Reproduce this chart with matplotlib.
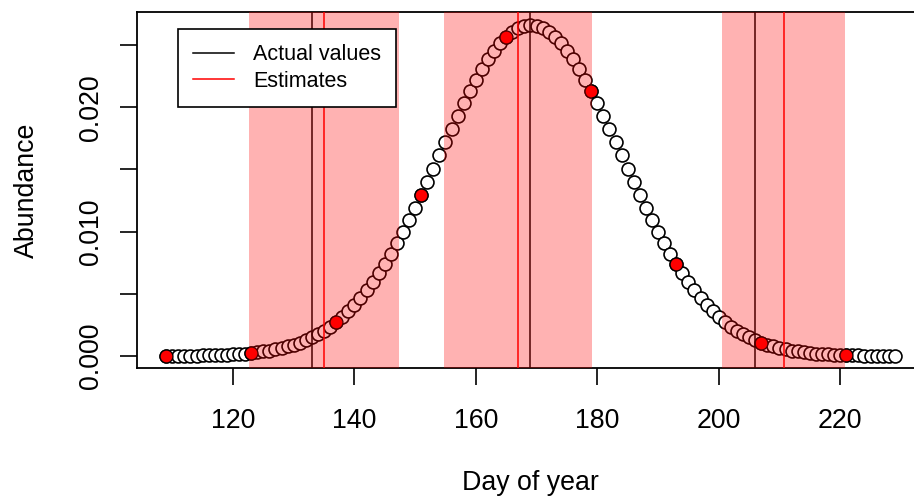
import matplotlib.pyplot as plt
import numpy as np

plt.rcParams['font.family'] = ['Liberation Sans', 'DejaVu Sans']

days = list(range(109, 230))
abundance = [
    0.000009, 0.000012, 0.000015, 0.000019, 0.000025, 0.000032, 0.000041,
    0.000052, 0.000065, 0.000082, 0.000103, 0.000128, 0.000159, 0.000196,
    0.000241, 0.000295, 0.000360, 0.000437, 0.000528, 0.000635, 0.000760,
    0.000906, 0.001074, 0.001269, 0.001493, 0.001748, 0.002038, 0.002365,
    0.002733, 0.003143, 0.003599, 0.004104, 0.004658, 0.005263, 0.005921,
    0.006632, 0.007395, 0.008209, 0.009072, 0.009982, 0.010934, 0.011924,
    0.012946, 0.013993, 0.015058, 0.016131, 0.017205, 0.018269, 0.019313,
    0.020326, 0.021296, 0.022215, 0.023070, 0.023852, 0.024551, 0.025159,
    0.025667, 0.026069, 0.026361, 0.026537, 0.026596,
    0.026537, 0.026361, 0.026069, 0.025667, 0.025159, 0.024551, 0.023852,
    0.023070, 0.022215, 0.021296, 0.020326, 0.019313, 0.018269, 0.017205,
    0.016131, 0.015058, 0.013993, 0.012946, 0.011924, 0.010934, 0.009982,
    0.009072, 0.008209, 0.007395, 0.006632, 0.005921, 0.005263, 0.004658,
    0.004104, 0.003599, 0.003143, 0.002733, 0.002365, 0.002038, 0.001748,
    0.001493, 0.001269, 0.001074, 0.000906, 0.000760, 0.000635, 0.000528,
    0.000437, 0.000360, 0.000295, 0.000241, 0.000196, 0.000159, 0.000128,
    0.000103, 0.000082, 0.000065, 0.000052, 0.000041, 0.000032, 0.000025,
    0.000019, 0.000015, 0.000012, 0.000009,
]

# sampled days (filled red)
sample_days = [109, 123, 137, 151, 165, 179, 193, 207, 221]

# true and estimated phenology dates
actual_dates = [133, 169, 206]
estimated_dates = [135, 167, 210.7]
# uncertainty bands around the estimates
band_lo = [122.7, 154.7, 200.6]
band_hi = [147.3, 179.2, 220.8]

fig = plt.figure(figsize=(9.14, 5.01), dpi=100)
ax = fig.add_axes([137/914, 1 - 368/501, 787/914, 356/501])

ax.plot(days, abundance, 'o', mfc='white', mec='black', ms=9.3, mew=1.2, zorder=1)
sample_vals = [abundance[days.index(d)] for d in sample_days]
ax.plot(sample_days, sample_vals, 'o', mfc='red', mec='black', ms=9.3, mew=0.9, zorder=2)

for d in actual_dates:
    ax.axvline(d, color='black', lw=1.1, zorder=3)
for d in estimated_dates:
    ax.axvline(d, color='red', lw=1.1, zorder=3)

for lo, hi in zip(band_lo, band_hi):
    ax.axvspan(lo, hi, color='red', alpha=0.3, lw=0, zorder=4)

ax.set_xlim(104.2, 233.8)
ax.set_ylim(-0.00097, 0.02766)
ax.set_xticks([120, 140, 160, 180, 200, 220])
ax.set_yticks([0, 0.005, 0.010, 0.015, 0.020, 0.025])
ax.set_yticklabels(['0.000', '', '0.010', '', '0.020', ''], rotation=90, va='center')
ax.tick_params(axis='both', length=12, width=1.2, labelsize=19.3)
ax.tick_params(axis='x', pad=17)
ax.tick_params(axis='y', pad=12)
for s in ax.spines.values():
    s.set_linewidth(1.3)

ax.set_xlabel('Day of year', fontsize=19.3, labelpad=26)
ax.set_ylabel('Abundance', fontsize=19.3, labelpad=27)

h1, = ax.plot([], [], color='black', lw=1.1)
h2, = ax.plot([], [], color='red', lw=1.1)
leg = ax.legend([h1, h2], ['Actual values', 'Estimates'], loc='upper left',
                bbox_to_anchor=(0.052, 0.952), fontsize=15.5, fancybox=False,
                framealpha=1, edgecolor='black', handlelength=1.9,
                handletextpad=0.9, borderpad=0.7, labelspacing=0.25,
                borderaxespad=0)
leg.get_frame().set_linewidth(1.2)
leg.set_zorder(10)

plt.savefig('out.png', dpi=100)
